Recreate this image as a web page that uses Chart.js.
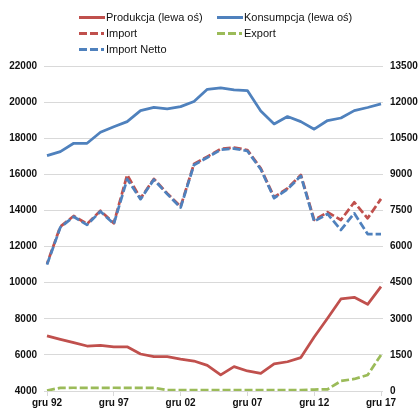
<!DOCTYPE html>
<html>
<head>
<meta charset="utf-8">
<script src="https://cdn.jsdelivr.net/npm/chart.js@4.4.1/dist/chart.umd.min.js"></script>
<style>
  html, body { margin: 0; padding: 0; background: #fff; }
  #wrap { position: relative; width: 420px; height: 409px; }
  canvas { position: absolute; left: 0; top: 0; }
  .lg { position: absolute; font-family: "Liberation Sans", Arial, sans-serif; font-size: 11px; color: #111; white-space: nowrap; line-height: 12px; }
  .sw { position: absolute; width: 26px; height: 3px; }
</style>
</head>
<body>
<div id="wrap">
  <canvas id="c" width="420" height="409"></canvas>
  <div id="legend"></div>
</div>
<script>
const categories = ["gru 92","gru 93","gru 94","gru 95","gru 96","gru 97","gru 98","gru 99","gru 00","gru 01","gru 02","gru 03","gru 04","gru 05","gru 06","gru 07","gru 08","gru 09","gru 10","gru 11","gru 12","gru 13","gru 14","gru 15","gru 16","gru 17"];
const produkcja = [7050, 6860, 6680, 6490, 6530, 6450, 6450, 6050, 5900, 5900, 5770, 5660, 5420, 4890, 5350, 5110, 4980, 5500, 5620, 5850, 6990, 8030, 9100, 9190, 8800, 9780];
const konsumpcja = [17035, 17260, 17720, 17720, 18330, 18640, 18920, 19530, 19710, 19620, 19750, 20030, 20710, 20790, 20680, 20640, 19510, 18790, 19200, 18920, 18500, 18980, 19120, 19530, 19700, 19900];
const importVals = [5280, 6830, 7270, 6940, 7490, 6970, 8975, 8000, 8810, 8210, 7660, 9430, 9735, 10055, 10110, 10010, 9250, 8050, 8420, 8975, 7105, 7425, 7105, 7840, 7175, 7980];
const exportVals = [20, 130, 135, 130, 130, 135, 135, 135, 135, 40, 40, 40, 40, 40, 40, 40, 40, 40, 40, 40, 60, 70, 415, 500, 665, 1500];
const importNetto = [5250, 6800, 7240, 6900, 7460, 6940, 8800, 7970, 8780, 8180, 7620, 9390, 9700, 10020, 10070, 9970, 9210, 8010, 8380, 8935, 7045, 7355, 6690, 7380, 6520, 6520];
const leftTicks = {min: 4000, max: 22000, step: 2000};
const rightTicks = {min: 0, max: 13500, step: 1500};

const RED = "#C0504D", BLUE = "#4F81BD", GREEN = "#9BBB59", GRID = "#D9D9D9";
const DASH = [8, 3];

const legendItems = [
  {label: "Produkcja (lewa oś)", color: RED, dashed: false, x: 79, y: 11},
  {label: "Konsumpcja (lewa oś)", color: BLUE, dashed: false, x: 217, y: 11},
  {label: "Import", color: RED, dashed: true, x: 79, y: 27},
  {label: "Export", color: GREEN, dashed: true, x: 217, y: 27},
  {label: "Import Netto", color: BLUE, dashed: true, x: 79, y: 43}
];
const lg = document.getElementById("legend");
legendItems.forEach(it => {
  const sw = document.createElement("div");
  sw.className = "sw";
  sw.style.left = it.x + "px";
  sw.style.top = (it.y + 5) + "px";
  if (it.dashed) {
    sw.style.background = `linear-gradient(to right, ${it.color} 0 8px, transparent 8px 11px, ${it.color} 11px 19px, transparent 19px 22px, ${it.color} 22px 25px, transparent 25px)`;
  } else {
    sw.style.background = it.color;
  }
  lg.appendChild(sw);
  const t = document.createElement("div");
  t.className = "lg";
  t.style.left = (it.x + 27) + "px";
  t.style.top = it.y + "px";
  t.textContent = it.label;
  lg.appendChild(t);
});

const font = {family: "'Liberation Sans', Arial, sans-serif", size: 10, weight: "bold"};
const plain = v => String(v);

new Chart(document.getElementById("c"), {
  type: "line",
  data: {
    labels: categories,
    datasets: [
      {label: "Import Netto", data: importNetto, yAxisID: "y2", borderColor: BLUE, borderWidth: 2.75, borderDash: DASH, borderDashOffset: 0},
      {label: "Import", data: importVals, yAxisID: "y2", borderColor: RED, borderWidth: 2.75, borderDash: DASH, borderDashOffset: 4},
      {label: "Export", data: exportVals, yAxisID: "y2", borderColor: GREEN, borderWidth: 2.75, borderDash: DASH},
      {label: "Konsumpcja (lewa oś)", data: konsumpcja, yAxisID: "y", borderColor: BLUE, borderWidth: 2.75},
      {label: "Produkcja (lewa oś)", data: produkcja, yAxisID: "y", borderColor: RED, borderWidth: 2.75}
    ]
  },
  options: {
    responsive: false,
    animation: false,
    devicePixelRatio: 1,
    layout: {padding: {top: 66, left: 0, right: 0, bottom: 0}},
    elements: {point: {radius: 0}, line: {tension: 0, fill: false, borderCapStyle: "butt", borderJoinStyle: "round"}},
    plugins: {legend: {display: false}, tooltip: {enabled: false}},
    scales: {
      x: {
        offset: false,
        grid: {drawOnChartArea: false, drawTicks: true, tickLength: 5, tickWidth: 1,
               tickColor: ctx => (ctx.index % 5 === 0 ? GRID : "rgba(0,0,0,0)")},
        border: {display: true, color: GRID, width: 1},
        ticks: {autoSkip: false, maxRotation: 0, minRotation: 0, padding: 1, color: "#111", font: font,
                callback: function(v, i) { return i % 5 === 0 ? categories[i] : ""; }},
        afterFit: s => { s.height = 18; }
      },
      y: {
        position: "left",
        min: leftTicks.min, max: leftTicks.max,
        ticks: {stepSize: leftTicks.step, padding: 7, color: "#111", font: font, callback: plain},
        grid: {color: GRID, lineWidth: 1, drawTicks: true, tickLength: 3},
        border: {display: false},
        afterFit: s => { s.width = 47; }
      },
      y2: {
        position: "right",
        min: rightTicks.min, max: rightTicks.max,
        ticks: {stepSize: rightTicks.step, padding: 7, color: "#111", font: font, callback: plain},
        grid: {drawOnChartArea: false, color: GRID, drawTicks: true, tickLength: 2},
        border: {display: false},
        afterFit: s => { s.width = 39; }
      }
    }
  }
});
</script>
</body>
</html>
